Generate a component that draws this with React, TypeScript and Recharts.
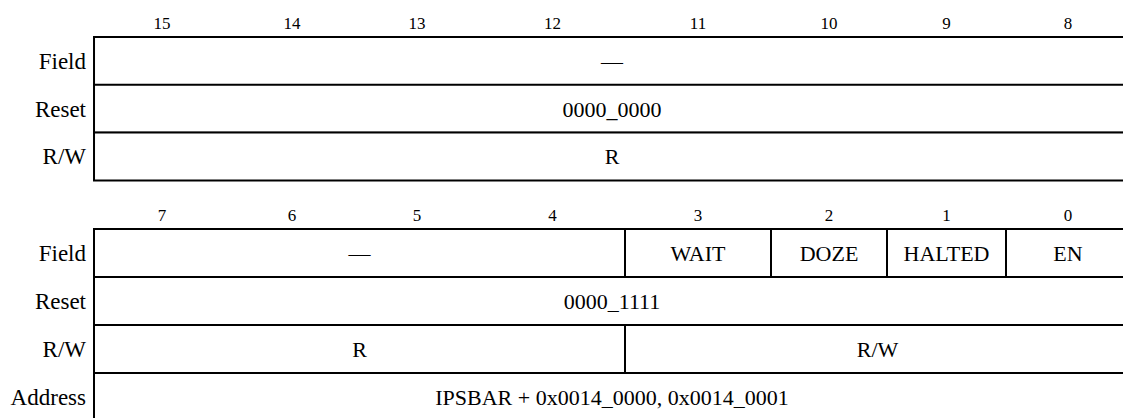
import { BarChart, Bar, XAxis, YAxis, LabelList } from 'recharts';

const highBitLabels = ['15', '14', '13', '12', '11', '10', '9', '8'];
const lowBitLabels = ['7', '6', '5', '4', '3', '2', '1', '0'];

// width of each bit column as drawn, left to right
const bitColumnWidths = [136, 124, 126, 145, 146, 116, 119, 124];

const highRows = ['Field', 'Reset', 'R/W'];
const highSegments: [string, number][][] = [
  [['—', 8]],
  [['0000_0000', 8]],
  [['R', 8]],
];

const lowRows = ['Field', 'Reset', 'R/W', 'Address'];
const lowSegments: [string, number][][] = [
  [['—', 4], ['WAIT', 1], ['DOZE', 1], ['HALTED', 1], ['EN', 1]],
  [['0000_1111', 8]],
  [['R', 4], ['R/W', 4]],
  [['IPSBAR + 0x0014_0000, 0x0014_0001', 8]],
];

const FONT = 'Liberation Serif, DejaVu Serif, Times New Roman, serif';
const MAX_SEGMENTS = 5;

const totalWidth = bitColumnWidths.reduce((a, b) => a + b, 0);
const columnCenters = bitColumnWidths.map(
  (w, i) => bitColumnWidths.slice(0, i).reduce((a, b) => a + b, 0) + w / 2
);

function buildRows(rows: string[], segments: [string, number][][]) {
  return rows.map((row, r) => {
    const item: Record<string, string | number> = { row };
    let bit = 0;
    segments[r].forEach(([text, bits], j) => {
      item[`w${j}`] = bitColumnWidths.slice(bit, bit + bits).reduce((a, b) => a + b, 0);
      item[`t${j}`] = text;
      bit += bits;
    });
    return item;
  });
}

interface RegisterTableProps {
  rows: string[];
  segments: [string, number][][];
  bitLabels: string[];
  top: number;
  rowHeight: number;
}

function RegisterTable({ rows, segments, bitLabels, top, rowHeight }: RegisterTableProps) {
  const data = buildRows(rows, segments);
  const height = 37 + rows.length * rowHeight + 4;

  return (
    <div style={{ position: 'absolute', left: 0, top, fontFamily: FONT }}>
      <BarChart
        width={1140}
        height={height}
        data={data}
        layout="vertical"
        barCategoryGap={0}
        margin={{ top: 7, right: 10, left: 0, bottom: 4 }}
        style={{ fontFamily: FONT }}
      >
        <XAxis
          type="number"
          orientation="top"
          domain={[0, totalWidth]}
          ticks={columnCenters}
          interval={0}
          tickFormatter={(v: number) => bitLabels[columnCenters.indexOf(v)] ?? ''}
          axisLine={false}
          tickLine={false}
          height={30}
          tick={{ fontSize: 17, fill: '#000', fontFamily: FONT }}
        />
        <YAxis
          type="category"
          dataKey="row"
          width={94}
          axisLine={false}
          tickLine={false}
          tick={{ fontSize: 23, fill: '#000', fontFamily: FONT }}
        />
        {Array.from({ length: MAX_SEGMENTS }, (_, j) => (
          <Bar
            key={j}
            dataKey={`w${j}`}
            stackId="reg"
            fill="#fff"
            stroke="#000"
            strokeWidth={2}
            isAnimationActive={false}
          >
            <LabelList
              dataKey={`t${j}`}
              position="center"
              fontFamily={FONT}
              fontSize={22}
              fill="#000"
            />
          </Bar>
        ))}
      </BarChart>
    </div>
  );
}

export default function App() {
  return (
    <div
      style={{
        position: 'absolute',
        left: 0,
        top: 0,
        width: 1123,
        height: 418,
        overflow: 'hidden',
        background: '#fff',
        fontFamily: FONT,
      }}
    >
      <RegisterTable
        rows={highRows}
        segments={highSegments}
        bitLabels={highBitLabels}
        top={0}
        rowHeight={47.7}
      />
      <RegisterTable
        rows={lowRows}
        segments={lowSegments}
        bitLabels={lowBitLabels}
        top={192}
        rowHeight={48}
      />
    </div>
  );
}
